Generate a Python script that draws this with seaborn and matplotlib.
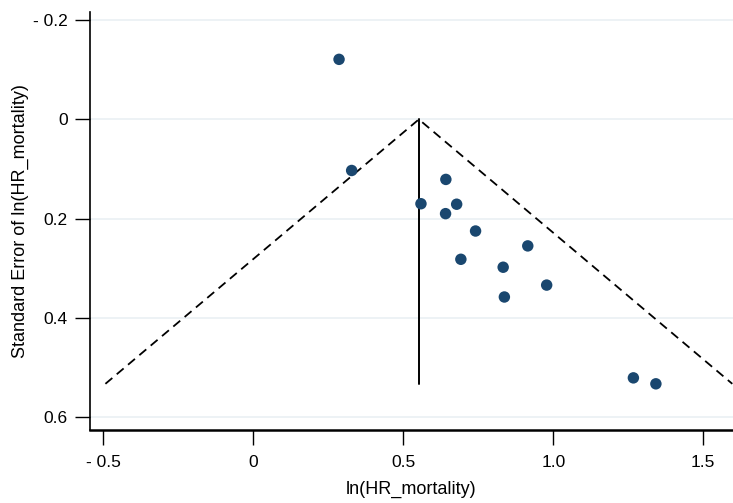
import matplotlib
matplotlib.use("Agg")
import matplotlib.pyplot as plt
import seaborn as sns
import numpy as np
import pandas as pd

# Data
log_hr = [0.286, 0.328, 0.642, 0.559, 0.678, 0.641, 0.741, 0.915, 0.692, 0.833, 0.978, 0.837, 1.267, 1.342]
se_log_hr = [-0.121, 0.103, 0.121, 0.170, 0.171, 0.190, 0.225, 0.255, 0.282, 0.298, 0.334, 0.358, 0.521, 0.533]
pooled_estimate = 0.552

x_ticks = [-0.5, 0, 0.5, 1.0, 1.5]
x_tick_labels = ["- 0.5", "0", "0.5", "1.0", "1.5"]
y_ticks = [-0.2, 0, 0.2, 0.4, 0.6]
y_tick_labels = ["- 0.2", "0", "0.2", "0.4", "0.6"]

df = pd.DataFrame({"lnhr": log_hr, "se": se_log_hr})

sns.set_style("white")
plt.rcParams["font.family"] = ["Liberation Sans", "DejaVu Sans"]

fig = plt.figure(figsize=(7.33, 5.03), dpi=100)
ax = fig.add_axes([0.1228, 0.1457, 0.8772, 0.831])

# gridlines
for yt in y_ticks:
    ax.axhline(yt, color="#eaf0f3", lw=1.2, zorder=0)

se_max = max(se_log_hr)
z = 1.96
funnel = pd.DataFrame({
    "x": [pooled_estimate - z * se_max, pooled_estimate, pooled_estimate + z * se_max],
    "y": [se_max, 0, se_max],
})
sns.lineplot(data=funnel, x="x", y="y", sort=False, color="black", lw=1.3,
             linestyle=(0, (5, 3.2)), ax=ax, zorder=2)
ax.plot([pooled_estimate, pooled_estimate], [0, se_max], color="black", lw=1.4, zorder=2)

sns.scatterplot(data=df, x="lnhr", y="se", color="#1a476f", s=68, edgecolor="none",
                ax=ax, zorder=3)

ax.set_xlim(-0.544, 1.599)
ax.set_ylim(0.6255, -0.217)

ax.set_xticks(x_ticks)
ax.set_xticklabels(x_tick_labels)
ax.set_yticks(y_ticks)
ax.set_yticklabels(y_tick_labels)

ax.tick_params(axis="both", direction="out", length=11, width=1.0, color="black",
               labelsize=12.5, labelcolor="black", left=True, bottom=True)
ax.tick_params(axis="x", pad=7)
ax.tick_params(axis="y", pad=5)

for s in ["top", "right"]:
    ax.spines[s].set_visible(False)
ax.spines["left"].set_color("black")
ax.spines["left"].set_linewidth(1.2)
ax.spines["bottom"].set_color("black")
ax.spines["bottom"].set_linewidth(1.8)

ax.set_xlabel("ln(HR_mortality)", fontsize=13, labelpad=8, color="black")
ax.set_ylabel("Standard Error of ln(HR_mortality)", fontsize=13, labelpad=3, color="black")

fig.savefig("out.png", dpi=100)
